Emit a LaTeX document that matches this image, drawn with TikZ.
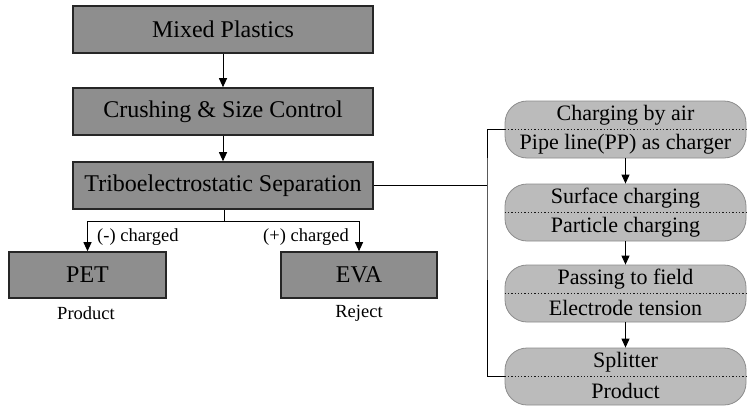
\documentclass[tikz,border=0pt]{standalone}
\usepackage{fontspec}
\setmainfont{Liberation Serif}
\newfontfamily\tnr{Liberation Serif}
\usetikzlibrary{arrows.meta}
\definecolor{boxdark}{HTML}{8E8E8E}
\definecolor{boxlight}{HTML}{BBBBBB}
\tikzset{
  mainbox/.style={draw=black!85, line width=1.6pt, fill=boxdark, inner sep=0pt, font=\tnr\fontsize{24}{26}\selectfont},
  pillbox/.style={draw=black!45, line width=0.8pt, fill=boxlight, rounded corners=22pt, inner sep=0pt},
  pilltext/.style={font=\tnr\fontsize{22}{24}\selectfont, inner sep=0pt},
  lbl/.style={font=\tnr\fontsize{18.5}{20}\selectfont, inner sep=0pt},
  conn/.style={line width=1pt, black},
  arr/.style={conn, -{Triangle[length=9pt,width=8pt]}},
  dotline/.style={line width=1.3pt, dotted, black!90}
}
\begin{document}
\begin{tikzpicture}[x=1pt,y=-1pt]
\useasboundingbox (0,0) rectangle (747,407);
% left column boxes
\node[mainbox, minimum width=300pt, minimum height=47pt] (mix) at (223,29.5) {Mixed Plastics};
\node[mainbox, minimum width=300pt, minimum height=47pt] (crush) at (223,111.5) {Crushing \& Size Control};
\node[mainbox, minimum width=300pt, minimum height=47pt] (tribo) at (223,185.5) {Triboelectrostatic Separation};
\node[mainbox, minimum width=157pt, minimum height=46pt] (pet) at (87.5,275) {PET};
\node[mainbox, minimum width=156pt, minimum height=46pt] (eva) at (359,275) {EVA};
\node[lbl] (prod) at (86,313) {Product};
\node[lbl] (rej) at (359,313) {Reject};
% connectors left
\draw[arr] (mix) -- (crush);
\draw[arr] (crush) -- (tribo);
\coordinate (split) at (224,221);
\coordinate (splitL) at (87.5,221);
\coordinate (splitR) at (359,221);
\draw[conn] (tribo.south -| split) -- (split);
\draw[conn] (splitL) -- (splitR);
\draw[arr] (splitL) -- (pet.north);
\draw[arr] (splitR) -- (eva.north);
\node[lbl, anchor=west] (neg) at (97,237) {(-) charged};
\node[lbl, anchor=east] (pos) at (349,237) {(+) charged};
% right column pills
\foreach \n/\t/\a/\b in {p1/101/Charging by air/Pipe line(PP) as charger,
                         p2/184/Surface charging/Particle charging,
                         p3/265/Passing to field/Electrode tension,
                         p4/348/Splitter/Product}{
  \node[pillbox, minimum width=241pt, minimum height=57pt] (\n) at (625.5,\t+28.5) {};
  \draw[dotline] (\n.west) -- (\n.east);
  \node[pilltext] (\n a) at (625.5,\t+14) {\a};
  \node[pilltext] (\n b) at (625.5,\t+43) {\b};
}
\draw[arr] (p1) -- (p2);
\draw[arr] (p2) -- (p3);
\draw[arr] (p3) -- (p4);
% bracket
\coordinate (brk) at (487,185.5);
\draw[conn] (tribo.east) -- (brk);
\draw[conn] (p1.west) -| (brk) |- (p4.west);
\end{tikzpicture}
\end{document}
